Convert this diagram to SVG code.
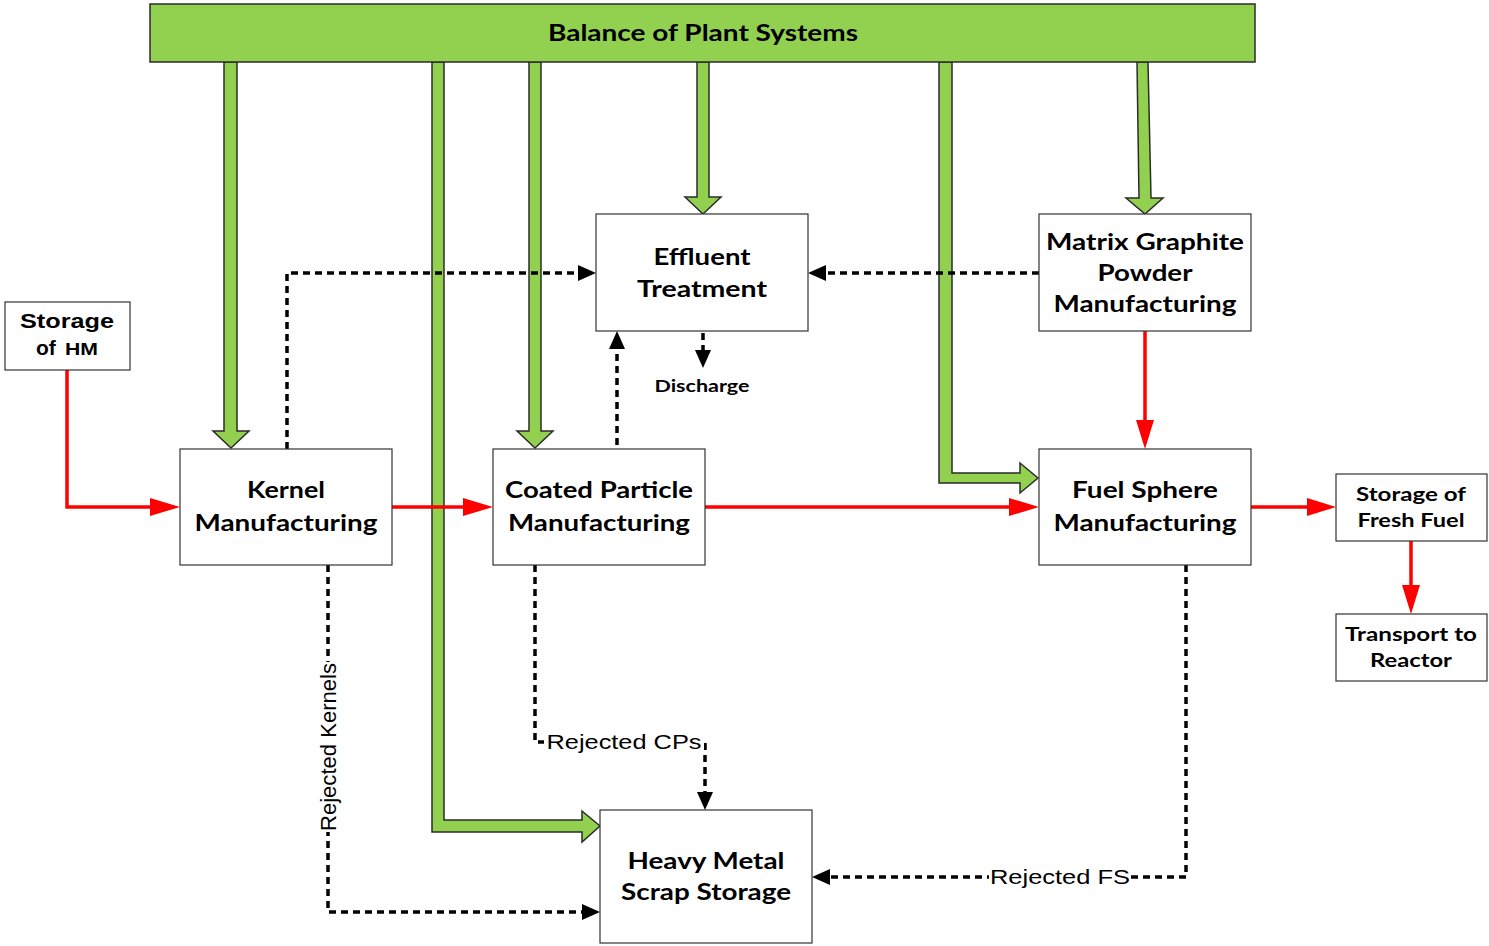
<svg xmlns="http://www.w3.org/2000/svg" width="1489" height="946" viewBox="0 0 1489 946">
<style>
.box{fill:#fff;stroke:#333;stroke-width:1.2}
.g{fill:#92D050;stroke:#2b2b2b;stroke-width:1.5;stroke-linejoin:miter}
.red{fill:none;stroke:#ff0000;stroke-width:3.5}
.dash{fill:none;stroke:#000;stroke-width:3.5;stroke-dasharray:7 5}
.t{font-family:Lato,"Liberation Sans",sans-serif;font-weight:bold;fill:#000;text-anchor:middle}
.a{font-family:"Liberation Sans",Arial,sans-serif;fill:#000;text-anchor:middle}
</style>
<rect width="1489" height="946" fill="#fff"/>

<g id="connectors">
<!-- green supply arrows -->
<polygon class="g" points="224,62 237,62 237,431 249,431 231,448 213,431 224,431"/>
<polygon class="g" points="432,62 444,62 444,820 582,820 582,811 600,826 582,842 582,832 432,832"/>
<polygon class="g" points="529,62 541,62 541,431 553,431 535,448 517,431 529,431"/>
<polygon class="g" points="697,62 709,62 709,197 721,197 703,214 685,197 697,197"/>
<polygon class="g" points="939,62 952,62 952,473 1020,473 1020,463 1038,478 1020,493 1020,483 939,483"/>
<polygon class="g" points="1137,62 1148,62 1151,198 1163,198 1145,214 1126,198 1139,198"/>

<!-- red flow arrows -->
<path class="red" d="M67,370 V507 H150" />
<path d="M150,498 L180,507 L150,516 z" fill="#ff0000"/>
<line class="red" x1="392" y1="507" x2="463" y2="507"/>
<path d="M463,498 L493,507 L463,516 z" fill="#ff0000"/>
<line class="red" x1="705" y1="507" x2="1009" y2="507"/>
<path d="M1009,498 L1039,507 L1009,516 z" fill="#ff0000"/>
<line class="red" x1="1145" y1="331" x2="1145" y2="420"/>
<path d="M1136,420 L1145,449 L1154,420 z" fill="#ff0000"/>
<line class="red" x1="1251" y1="507" x2="1307" y2="507"/>
<path d="M1307,498 L1336,507 L1307,516 z" fill="#ff0000"/>
<line class="red" x1="1411" y1="541" x2="1411" y2="585"/>
<path d="M1402,585 L1411,614 L1420,585 z" fill="#ff0000"/>

<!-- dashed flows -->
<path class="dash" d="M287,449 V273 H580"/>
<path d="M578,265 L596,273 L578,281 z"/>
<path class="dash" d="M1039,273 H826"/>
<path d="M826,265 L808,273 L826,281 z"/>
<path class="dash" d="M617,445 V349"/>
<path d="M609,349 L617,331 L625,349 z"/>
<path class="dash" d="M703,333 V350"/>
<path d="M695,350 L703,368 L711,350 z"/>
<path class="dash" d="M328,565 V912 H582"/>
<path d="M582,904 L600,912 L582,920 z"/>
<path class="dash" d="M535,565 V742 H705 V792"/>
<path d="M697,792 L705,810 L713,792 z"/>
<path class="dash" d="M1186,565 V877 H830"/>
<path d="M830,869 L812,877 L830,885 z"/>
</g>

<g id="balance">
<rect x="150" y="4" width="1105" height="58" class="g"/>
<text class="t" x="703" y="41" font-size="23" textLength="310" lengthAdjust="spacingAndGlyphs">Balance of Plant Systems</text>
</g>

<g id="effluent">
<rect class="box" x="596" y="214" width="212" height="117"/>
<text class="t" x="702" y="265" font-size="22" textLength="97" lengthAdjust="spacingAndGlyphs">Effluent</text>
<text class="t" x="702" y="297" font-size="22" textLength="130" lengthAdjust="spacingAndGlyphs">Treatment</text>
</g>

<g id="discharge">
<text class="t" x="702" y="392" font-size="17" textLength="95" lengthAdjust="spacingAndGlyphs">Discharge</text>
</g>

<g id="matrix">
<rect class="box" x="1039" y="214" width="212" height="117"/>
<text class="t" x="1145" y="250" font-size="22" textLength="198" lengthAdjust="spacingAndGlyphs">Matrix Graphite</text>
<text class="t" x="1145" y="281" font-size="22" textLength="95" lengthAdjust="spacingAndGlyphs">Powder</text>
<text class="t" x="1145" y="312" font-size="22" textLength="183" lengthAdjust="spacingAndGlyphs">Manufacturing</text>
</g>

<g id="storage-hm">
<rect class="box" x="5" y="302" width="125" height="68"/>
<text x="67" y="328" font-family="'Liberation Sans',Arial,sans-serif" font-weight="bold" font-size="21" text-anchor="middle" textLength="94" lengthAdjust="spacingAndGlyphs">Storage</text>
<text x="36" y="355" font-family="'Liberation Sans',Arial,sans-serif" font-weight="bold" font-size="21">of</text>
<text x="65" y="355" font-family="'Liberation Sans',Arial,sans-serif" font-weight="bold" font-size="17" textLength="33" lengthAdjust="spacingAndGlyphs">HM</text>
</g>

<g id="kernel">
<rect class="box" x="180" y="449" width="212" height="116"/>
<text class="t" x="286" y="498" font-size="22" textLength="78" lengthAdjust="spacingAndGlyphs">Kernel</text>
<text class="t" x="286" y="531" font-size="22" textLength="183" lengthAdjust="spacingAndGlyphs">Manufacturing</text>
</g>

<g id="coated">
<rect class="box" x="493" y="449" width="212" height="116"/>
<text class="t" x="599" y="498" font-size="22" textLength="188" lengthAdjust="spacingAndGlyphs">Coated Particle</text>
<text class="t" x="599" y="531" font-size="22" textLength="182" lengthAdjust="spacingAndGlyphs">Manufacturing</text>
</g>

<g id="fuelsphere">
<rect class="box" x="1039" y="449" width="212" height="116"/>
<text class="t" x="1145" y="498" font-size="22" textLength="146" lengthAdjust="spacingAndGlyphs">Fuel Sphere</text>
<text class="t" x="1145" y="531" font-size="22" textLength="183" lengthAdjust="spacingAndGlyphs">Manufacturing</text>
</g>

<g id="storage-ff">
<rect class="box" x="1336" y="474" width="151" height="67"/>
<text class="t" x="1411" y="501" font-size="19" textLength="110" lengthAdjust="spacingAndGlyphs">Storage of</text>
<text class="t" x="1411" y="527" font-size="19" textLength="107" lengthAdjust="spacingAndGlyphs">Fresh Fuel</text>
</g>

<g id="transport">
<rect class="box" x="1336" y="614" width="151" height="67"/>
<text class="t" x="1411" y="641" font-size="19" textLength="132" lengthAdjust="spacingAndGlyphs">Transport to</text>
<text class="t" x="1411" y="667" font-size="19" textLength="82" lengthAdjust="spacingAndGlyphs">Reactor</text>
</g>

<g id="scrap">
<rect class="box" x="600" y="810" width="212" height="133"/>
<text class="t" x="706" y="869" font-size="22" textLength="157" lengthAdjust="spacingAndGlyphs">Heavy Metal</text>
<text class="t" x="706" y="900" font-size="22" textLength="170" lengthAdjust="spacingAndGlyphs">Scrap Storage</text>
</g>

<g id="labels">
<rect x="544" y="730" width="160" height="24" fill="#fff"/>
<text class="a" x="624" y="749" font-size="21" textLength="155" lengthAdjust="spacingAndGlyphs">Rejected CPs</text>
<rect x="989" y="865" width="142" height="24" fill="#fff"/>
<text class="a" x="1060" y="884" font-size="21" textLength="140" lengthAdjust="spacingAndGlyphs">Rejected FS</text>
<rect x="315" y="662" width="25" height="170" fill="#fff"/>
<text class="a" transform="translate(336,747) rotate(-90)" x="0" y="0" font-size="22" textLength="168" lengthAdjust="spacingAndGlyphs">Rejected Kernels</text>
</g>
</svg>
